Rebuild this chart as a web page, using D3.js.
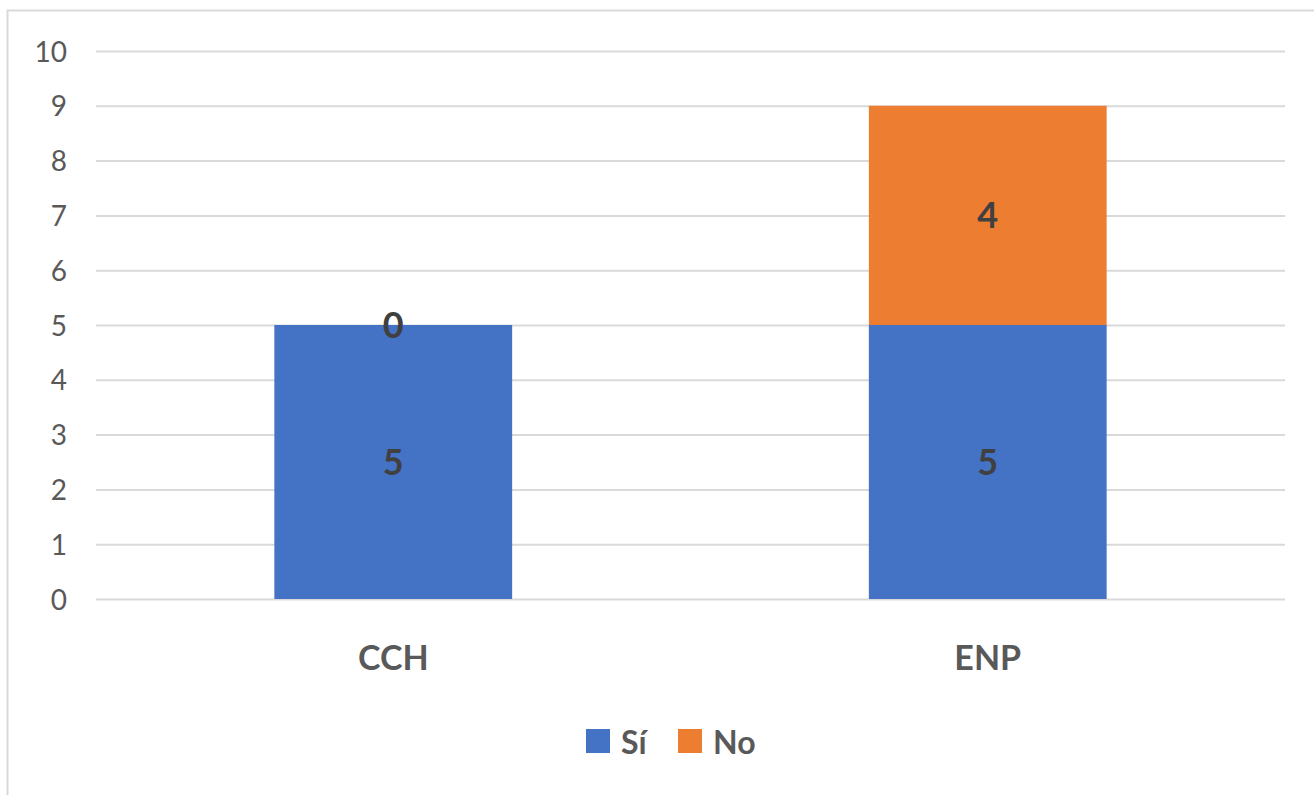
<!DOCTYPE html>
<html><head><meta charset="utf-8">
<script src="https://cdn.jsdelivr.net/npm/d3@7"></script>
<style>html,body{margin:0;padding:0;background:#fff;}svg{display:block;}</style>
</head><body>
<svg id="chart" width="1314" height="795"></svg>
<script>
const categories = ["CCH", "ENP"];
const seriesNames = ["Sí", "No"];
const siValues = [5, 5];
const noValues = [0, 4];
const yTicks = [0,1,2,3,4,5,6,7,8,9,10];
const colors = ["#4472C4", "#ED7D31"];

(function () {
const svg = d3.select("#chart");
const font = "Lato, 'Open Sans', sans-serif";

// chart frame
svg.append("rect").attr("x", 7.5).attr("y", 10.5).attr("width", 1320).attr("height", 800)
  .attr("fill", "#fff").attr("stroke", "#d9d9d9").attr("stroke-width", 2);

const pL = 96, pR = 1285, pT = 51, pB = 599;
const x = d3.scaleBand().domain(categories).range([pL, pR]).paddingInner(0.6).paddingOuter(0.3);
const y = d3.scaleLinear().domain([0, 10]).range([pB, pT]);

// gridlines
const yAxis = d3.axisLeft(y).tickValues(yTicks).tickSize(-(pR - pL)).tickPadding(29).tickFormat(d3.format("d"));
const gy = svg.append("g").attr("transform", `translate(${pL},0)`).call(yAxis);
gy.select(".domain").remove();
gy.selectAll(".tick line").attr("stroke", "#d9d9d9").attr("stroke-width", 2);
gy.selectAll(".tick text").attr("fill", "#595959").style("font-family", font).style("font-size", "28px").attr("dy", "0.36em");

const data = categories.map((c, i) => ({cat: c, "Sí": siValues[i], "No": noValues[i]}));
const stack = d3.stack().keys(seriesNames)(data);

const groups = svg.append("g").selectAll("g").data(stack).join("g").attr("fill", (d, i) => colors[i]);
groups.selectAll("rect").data(d => d.filter(p => p[1] - p[0] > 0)).join("rect")
  .attr("x", d => x(d.data.cat)).attr("width", x.bandwidth())
  .attr("y", d => y(d[1])).attr("height", d => y(d[0]) - y(d[1]));

// data labels
const labels = svg.append("g");
stack.forEach(s => {
  s.forEach(p => {
    labels.append("text")
      .attr("x", x(p.data.cat) + x.bandwidth() / 2)
      .attr("y", y((p[0] + p[1]) / 2))
      .attr("dy", "0.36em")
      .attr("text-anchor", "middle")
      .attr("fill", "#404040")
      .style("font-family", font).style("font-weight", "bold").style("font-size", "36px")
      .text(p[1] - p[0]);
  });
});

// x axis labels
const xAxis = d3.axisBottom(x).tickSize(0).tickPadding(0);
const gx = svg.append("g").attr("transform", `translate(0,${pB})`).call(xAxis);
gx.select(".domain").remove();
gx.selectAll(".tick text").attr("y", 71).attr("dy", 0).attr("fill", "#595959")
  .style("font-family", font).style("font-weight", "bold").style("font-size", "34px");

// legend
const legendItems = [{name: seriesNames[0], x: 586, color: colors[0]}, {name: seriesNames[1], x: 678, color: colors[1]}];
const lg = svg.append("g");
legendItems.forEach(it => {
  lg.append("rect").attr("x", it.x).attr("y", 729).attr("width", 24).attr("height", 24).attr("fill", it.color);
  lg.append("text").attr("x", it.x + 35).attr("y", 754).attr("fill", "#595959")
    .style("font-family", font).style("font-weight", "bold").style("font-size", "32px").text(it.name);
});
})();
</script>
</body></html>
